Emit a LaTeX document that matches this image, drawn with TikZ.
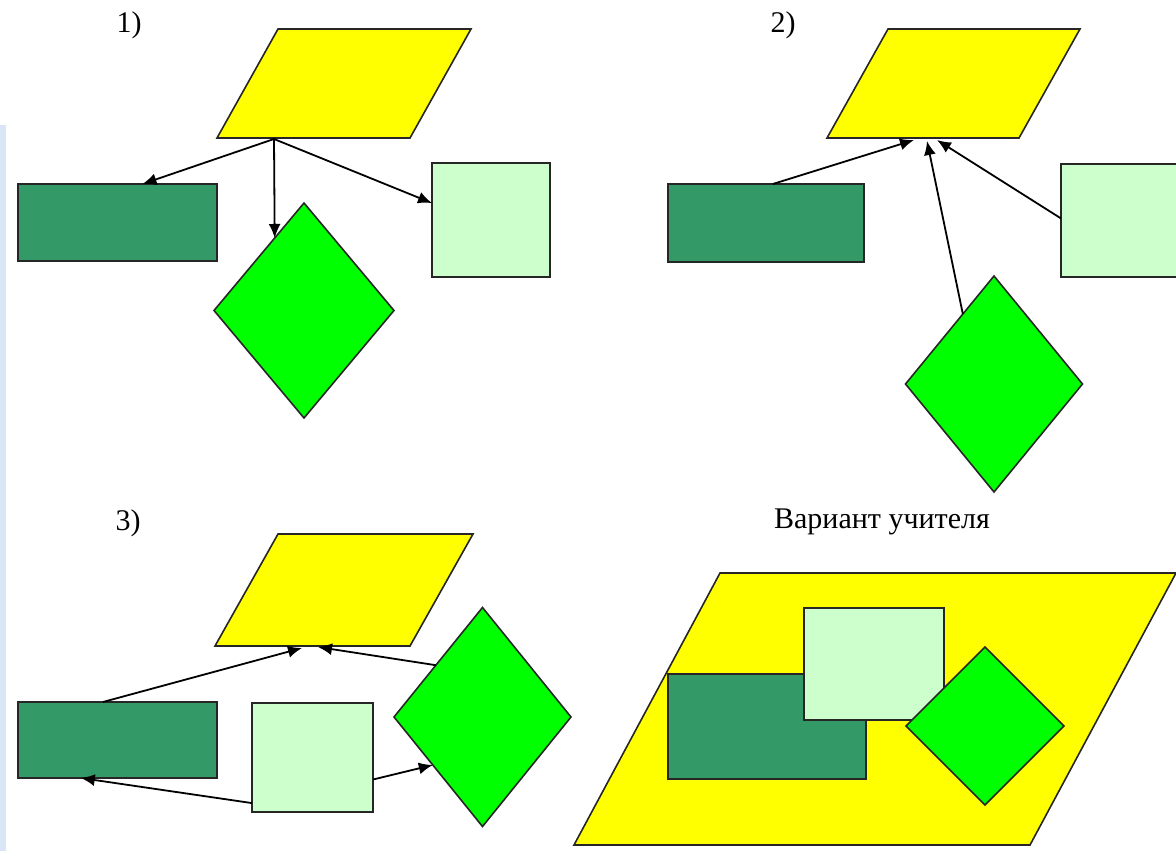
\documentclass[tikz,border=0pt]{standalone}
\usepackage{fontspec}
\setmainfont{Liberation Serif}
\usetikzlibrary{shapes.geometric,arrows.meta}

\definecolor{planeyellow}{HTML}{FFFF00}
\definecolor{boxgreen}{HTML}{339966}
\definecolor{palegreen}{HTML}{CCFFCC}
\definecolor{gemgreen}{HTML}{00FF00}
\definecolor{stripblue}{HTML}{D9E6F5}

\begin{document}
\begin{tikzpicture}[x=1pt, y=-1pt,
  lbl/.style = {anchor=base, font=\fontsize{30}{32}\selectfont},
  outline/.style = {draw=black!85, line width=1.6pt},
  plane/.style = {outline, fill=planeyellow},
  darkbox/.style = {outline, fill=boxgreen, shape=rectangle, inner sep=0pt, outer sep=0pt},
  lightbox/.style = {outline, fill=palegreen, shape=rectangle, inner sep=0pt, outer sep=0pt},
  gem/.style = {outline, fill=gemgreen, shape=diamond, inner sep=0pt, outer sep=0pt},
  arr/.style = {-{Latex[length=14pt, width=12pt]}, line width=1.8pt}]
\path[use as bounding box] (0,0) rectangle (1176,851);
\clip (0,0) rectangle (1176,851);
\fill[stripblue] (0,125) rectangle (6,851);

% 1)
\node[lbl] (l1) at (129,33) {1)};
\draw[plane] (217,138) -- (410,138) -- (471,29) -- (278,29) -- cycle;
\coordinate (p1) at (274,139);
\node[darkbox, minimum width=199pt, minimum height=77pt] (r1) at (117.5,222.5) {};
\node[lightbox, minimum width=118pt, minimum height=114pt] (s1) at (491,220) {};
\node[gem, minimum width=180pt, minimum height=215pt] (d1) at (304,310.5) {};
\draw[arr] (p1) -- (r1.57);
\draw[arr] (p1) -- (d1.112);
\draw[arr] (p1) -- (s1.164);

% 2)
\node[lbl] (l2) at (783,33) {2)};
\draw[plane] (827,138) -- (1019,138) -- (1080,29) -- (888,29) -- cycle;
\coordinate (p2a) at (914,140);
\coordinate (p2b) at (927,141);
\coordinate (p2c) at (937,140);
\node[darkbox, minimum width=196pt, minimum height=78pt] (r2) at (766,223) {};
\node[lightbox, minimum width=118pt, minimum height=113pt] (s2) at (1120,220.5) {};
\node[gem, minimum width=177pt, minimum height=216pt] (d2) at (994,384) {};
\draw[arr] (r2.80) -- (p2a);
\draw[arr] (d2.114) -- (p2b);
\draw[arr] (s2.178) -- (p2c);

% 3)
\node[lbl] (l3) at (128,530) {3)};
\draw[plane] (215,646) -- (410,646) -- (473,534) -- (278,534) -- cycle;
\coordinate (p3a) at (302,648);
\coordinate (p3b) at (318,647);
\node[darkbox, minimum width=199pt, minimum height=76pt] (r3) at (117.5,740) {};
\node[lightbox, minimum width=121pt, minimum height=109pt] (s3) at (312.5,757.5) {};
\node[gem, minimum width=177pt, minimum height=219pt] (d3) at (482.5,717) {};
\draw[arr] (r3.111) -- (p3a);
\draw[arr] (d3.132) -- (p3b);
\draw[arr] (s3.217) -- (r3.226);
\draw[arr] (s3.340) -- (d3.224);

% teacher's version
\node[lbl] (l4) at (882,528) {Вариант учителя};
\draw[plane] (574,845) -- (1030,845) -- (1176,573) -- (720,573) -- cycle;
\node[darkbox, minimum width=198pt, minimum height=105pt] (r4) at (767,726.5) {};
\node[lightbox, minimum width=140pt, minimum height=112pt] (s4) at (874,664) {};
\node[gem, minimum width=158pt, minimum height=158pt] (d4) at (985,726) {};
\end{tikzpicture}
\end{document}
